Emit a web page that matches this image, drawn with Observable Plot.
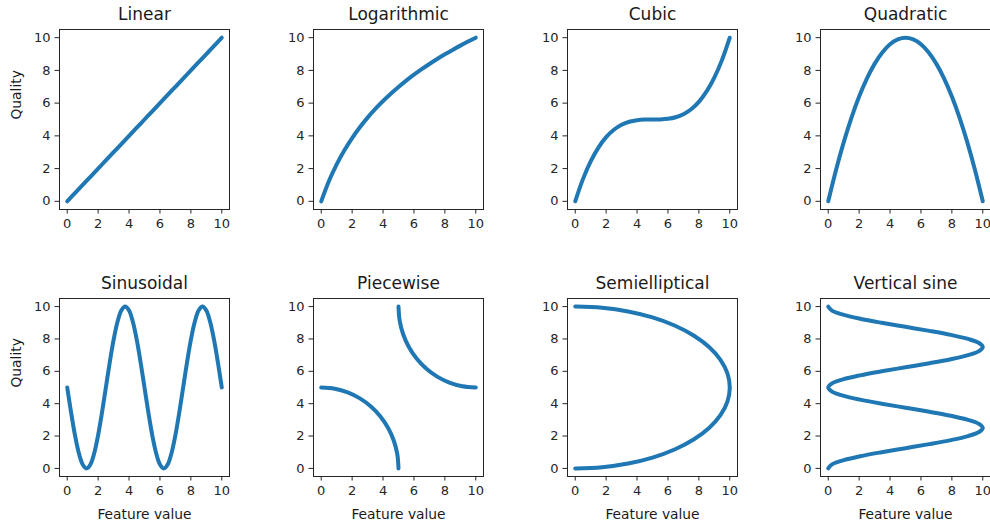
<!DOCTYPE html>
<html><head><meta charset="utf-8">
<script src="https://cdn.jsdelivr.net/npm/d3@7"></script>
<script src="https://cdn.jsdelivr.net/npm/@observablehq/plot@0.6"></script>
<style>
html,body{margin:0;padding:0;background:#fff;overflow:hidden}
#wrap{position:relative;width:990px;height:527px;background:#fff}
#wrap svg{position:absolute;overflow:visible;background:transparent;font-family:"DejaVu Sans";font-size:13px}
#wrap svg g[aria-label$="tick label"] text{font-size:13px}
</style></head><body><div id="wrap"></div>
<script>
const titles = ["Linear","Logarithmic","Cubic","Quadratic","Sinusoidal","Piecewise","Semielliptical","Vertical sine"];
const ticks = [0,2,4,6,8,10];
const yLabel = "Quality";
const xLabel = "Feature value";

const xHalf = [0,0.5,1,1.5,2,2.5,3,3.5,4,4.5,5,5.5,6,6.5,7,7.5,8,8.5,9,9.5,10];
const xQuarter = [0,0.25,0.5,0.75,1,1.25,1.5,1.75,2,2.25,2.5,2.75,3,3.25,3.5,3.75,4,4.25,4.5,4.75,5,5.25,5.5,5.75,6,6.25,6.5,6.75,7,7.25,7.5,7.75,8,8.25,8.5,8.75,9,9.25,9.5,9.75,10];

const linearY = [0,0.5,1,1.5,2,2.5,3,3.5,4,4.5,5,5.5,6,6.5,7,7.5,8,8.5,9,9.5,10];
const logY = [0,1.245,2.263,3.123,3.869,4.526,5.114,5.646,6.131,6.578,6.992,7.377,7.737,8.075,8.394,8.696,8.982,9.254,9.514,9.762,10];
const cubicY = [0,1.355,2.44,3.285,3.92,4.375,4.68,4.865,4.96,4.995,5,5.005,5.04,5.135,5.32,5.625,6.08,6.715,7.56,8.645,10];
const quadY = [0,1.9,3.6,5.1,6.4,7.5,8.4,9.1,9.6,9.9,10,9.9,9.6,9.1,8.4,7.5,6.4,5.1,3.6,1.9,0];
const sinY = [5,3.455,2.06,0.955,0.245,0,0.245,0.955,2.06,3.455,5,6.545,7.94,9.045,9.755,10,9.755,9.045,7.94,6.545,5,3.455,2.06,0.955,0.245,0,0.245,0.955,2.06,3.455,5,6.545,7.94,9.045,9.755,10,9.755,9.045,7.94,6.545,5];

const pieceLowX = [0,0.868,1.71,2.5,3.214,3.83,4.33,4.698,4.924,5];
const pieceLowY = [5,4.924,4.698,4.33,3.83,3.214,2.5,1.71,0.868,0];
const pieceHighX = [5,5.076,5.302,5.67,6.17,6.786,7.5,8.29,9.132,10];
const pieceHighY = [10,9.132,8.29,7.5,6.786,6.17,5.67,5.302,5.076,5];

const semiX = [0,1.736,3.42,5,6.428,7.66,8.66,9.397,9.848,10,9.848,9.397,8.66,7.66,6.428,5,3.42,1.736,0];
const semiY = [0,0.076,0.302,0.67,1.17,1.786,2.5,3.29,4.132,5,5.868,6.71,7.5,8.214,8.83,9.33,9.698,9.924,10];

const vsineX = [0,0.245,0.955,2.06,3.455,5,6.545,7.94,9.045,9.755,10,9.755,9.045,7.94,6.545,5,3.455,2.06,0.955,0.245,0,0.245,0.955,2.06,3.455,5,6.545,7.94,9.045,9.755,10,9.755,9.045,7.94,6.545,5,3.455,2.06,0.955,0.245,0];
const vsineY = xQuarter;

const zip = (xs, ys, seg = 0) => xs.map((x, i) => ({x, y: ys[i], seg}));

const panelData = [
  zip(xHalf, linearY),
  zip(xHalf, logY),
  zip(xHalf, cubicY),
  zip(xHalf, quadY),
  zip(xQuarter, sinY),
  zip(pieceLowX, pieceLowY, 0).concat(zip(pieceHighX, pieceHighY, 1)),
  zip(semiX, semiY),
  zip(vsineX, vsineY)
];

const colLeft = [14, 268, 522, 775];
const rowTop = [0, 268];
const wrap = document.getElementById("wrap");

panelData.forEach((data, i) => {
  const col = i % 4, row = Math.floor(i / 4);
  const marks = [
    Plot.frame({stroke: "#262626", strokeWidth: 1}),
    Plot.axisX({ticks, tickSize: 4.5, tickPadding: 5, fontSize: 13, label: null, stroke: "#262626", fill: "#262626"}),
    Plot.axisY({ticks, tickSize: 4.5, tickPadding: 4.5, fontSize: 13, label: null, stroke: "#262626", fill: "#262626"}),
    Plot.line(data, {x: "x", y: "y", z: "seg", stroke: "#1f77b4", strokeWidth: 4, curve: "catmull-rom", strokeLinecap: "round", strokeLinejoin: "round"}),
    Plot.text([titles[i]], {frameAnchor: "top", lineAnchor: "bottom", dy: -9.5, fontSize: 17, fill: "#1a1a1a"})
  ];
  if (col === 0) marks.push(Plot.text([yLabel], {frameAnchor: "left", dx: -43, rotate: -90, fontSize: 13.8, fill: "#1a1a1a"}));
  if (row === 1) marks.push(Plot.text([xLabel], {frameAnchor: "bottom", lineAnchor: "bottom", dy: 42, fontSize: 13.8, fill: "#1a1a1a"}));
  const svg = Plot.plot({
    width: 216,
    height: 259,
    marginLeft: 45,
    marginRight: 1,
    marginTop: row === 0 ? 29 : 30,
    marginBottom: row === 0 ? 50 : 51,
    style: "font-family:'DejaVu Sans';font-size:13px;color:#262626;background:transparent;overflow:visible;",
    x: {domain: [-0.5, 10.5], label: null},
    y: {domain: [-0.5, 10.5], label: null},
    marks
  });
  svg.style.left = colLeft[col] + "px";
  svg.style.top = rowTop[row] + "px";
  wrap.appendChild(svg);
});
</script></body></html>
